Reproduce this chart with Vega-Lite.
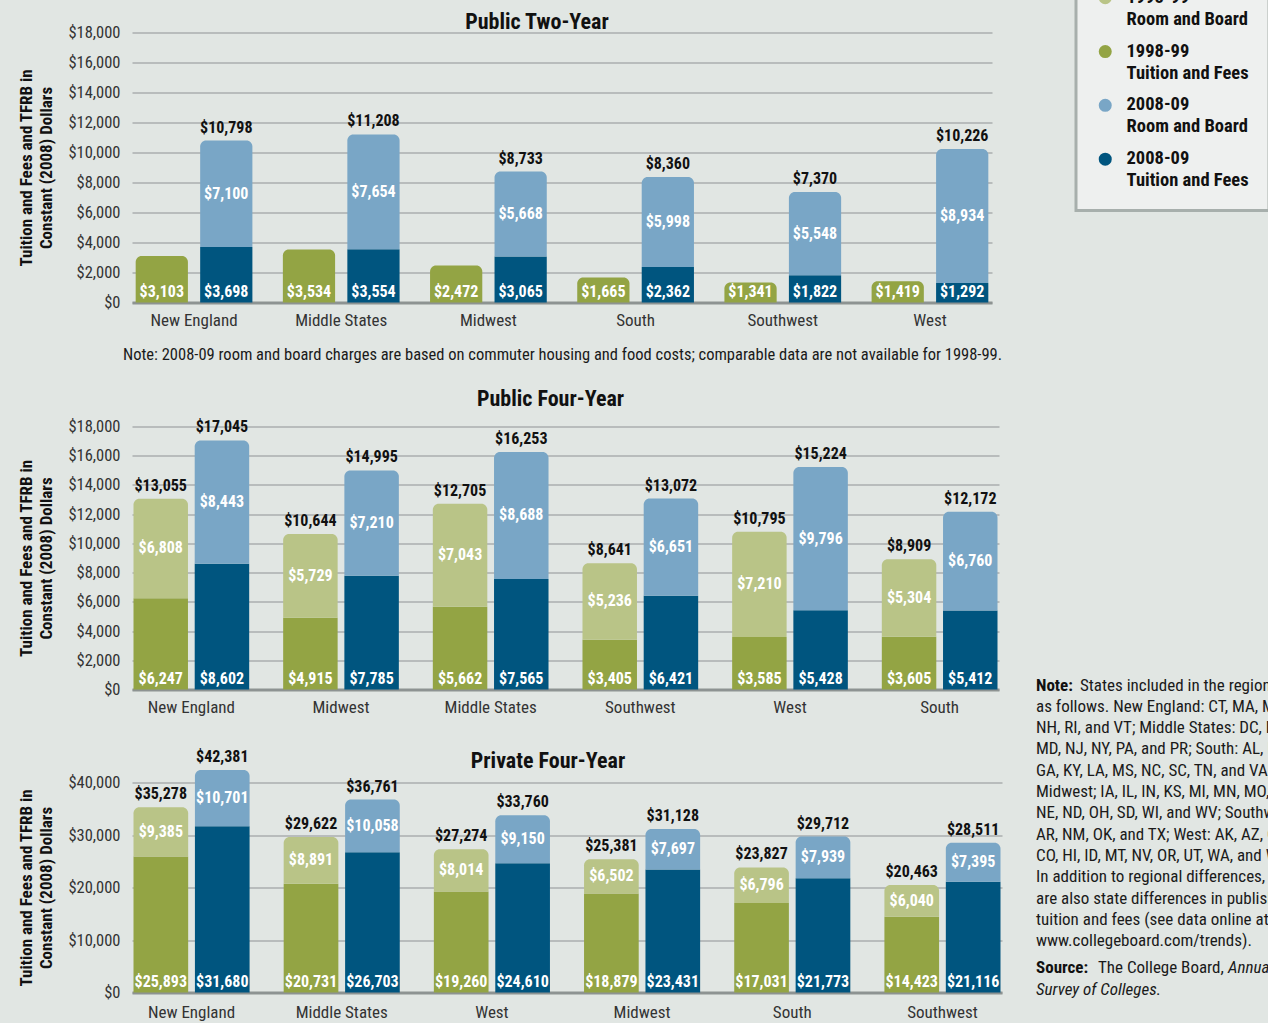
{
  "$schema": "https://vega.github.io/schema/vega-lite/v6.json",
  "padding": {"left": 17, "top": -33.5, "right": 0, "bottom": 0},
  "datasets": {
    "bars": [
      {"panel":"Public Two-Year","region":"New England","year":"1998-99","part":"Tuition and Fees","value":3103},
      {"panel":"Public Two-Year","region":"New England","year":"2008-09","part":"Tuition and Fees","value":3698},
      {"panel":"Public Two-Year","region":"New England","year":"2008-09","part":"Room and Board","value":7100},
      {"panel":"Public Two-Year","region":"Middle States","year":"1998-99","part":"Tuition and Fees","value":3534},
      {"panel":"Public Two-Year","region":"Middle States","year":"2008-09","part":"Tuition and Fees","value":3554},
      {"panel":"Public Two-Year","region":"Middle States","year":"2008-09","part":"Room and Board","value":7654},
      {"panel":"Public Two-Year","region":"Midwest","year":"1998-99","part":"Tuition and Fees","value":2472},
      {"panel":"Public Two-Year","region":"Midwest","year":"2008-09","part":"Tuition and Fees","value":3065},
      {"panel":"Public Two-Year","region":"Midwest","year":"2008-09","part":"Room and Board","value":5668},
      {"panel":"Public Two-Year","region":"South","year":"1998-99","part":"Tuition and Fees","value":1665},
      {"panel":"Public Two-Year","region":"South","year":"2008-09","part":"Tuition and Fees","value":2362},
      {"panel":"Public Two-Year","region":"South","year":"2008-09","part":"Room and Board","value":5998},
      {"panel":"Public Two-Year","region":"Southwest","year":"1998-99","part":"Tuition and Fees","value":1341},
      {"panel":"Public Two-Year","region":"Southwest","year":"2008-09","part":"Tuition and Fees","value":1822},
      {"panel":"Public Two-Year","region":"Southwest","year":"2008-09","part":"Room and Board","value":5548},
      {"panel":"Public Two-Year","region":"West","year":"1998-99","part":"Tuition and Fees","value":1419},
      {"panel":"Public Two-Year","region":"West","year":"2008-09","part":"Tuition and Fees","value":1292},
      {"panel":"Public Two-Year","region":"West","year":"2008-09","part":"Room and Board","value":8934},

      {"panel":"Public Four-Year","region":"New England","year":"1998-99","part":"Tuition and Fees","value":6247},
      {"panel":"Public Four-Year","region":"New England","year":"1998-99","part":"Room and Board","value":6808},
      {"panel":"Public Four-Year","region":"New England","year":"2008-09","part":"Tuition and Fees","value":8602},
      {"panel":"Public Four-Year","region":"New England","year":"2008-09","part":"Room and Board","value":8443},
      {"panel":"Public Four-Year","region":"Midwest","year":"1998-99","part":"Tuition and Fees","value":4915},
      {"panel":"Public Four-Year","region":"Midwest","year":"1998-99","part":"Room and Board","value":5729},
      {"panel":"Public Four-Year","region":"Midwest","year":"2008-09","part":"Tuition and Fees","value":7785},
      {"panel":"Public Four-Year","region":"Midwest","year":"2008-09","part":"Room and Board","value":7210},
      {"panel":"Public Four-Year","region":"Middle States","year":"1998-99","part":"Tuition and Fees","value":5662},
      {"panel":"Public Four-Year","region":"Middle States","year":"1998-99","part":"Room and Board","value":7043},
      {"panel":"Public Four-Year","region":"Middle States","year":"2008-09","part":"Tuition and Fees","value":7565},
      {"panel":"Public Four-Year","region":"Middle States","year":"2008-09","part":"Room and Board","value":8688},
      {"panel":"Public Four-Year","region":"Southwest","year":"1998-99","part":"Tuition and Fees","value":3405},
      {"panel":"Public Four-Year","region":"Southwest","year":"1998-99","part":"Room and Board","value":5236},
      {"panel":"Public Four-Year","region":"Southwest","year":"2008-09","part":"Tuition and Fees","value":6421},
      {"panel":"Public Four-Year","region":"Southwest","year":"2008-09","part":"Room and Board","value":6651},
      {"panel":"Public Four-Year","region":"West","year":"1998-99","part":"Tuition and Fees","value":3585},
      {"panel":"Public Four-Year","region":"West","year":"1998-99","part":"Room and Board","value":7210},
      {"panel":"Public Four-Year","region":"West","year":"2008-09","part":"Tuition and Fees","value":5428},
      {"panel":"Public Four-Year","region":"West","year":"2008-09","part":"Room and Board","value":9796},
      {"panel":"Public Four-Year","region":"South","year":"1998-99","part":"Tuition and Fees","value":3605},
      {"panel":"Public Four-Year","region":"South","year":"1998-99","part":"Room and Board","value":5304},
      {"panel":"Public Four-Year","region":"South","year":"2008-09","part":"Tuition and Fees","value":5412},
      {"panel":"Public Four-Year","region":"South","year":"2008-09","part":"Room and Board","value":6760},

      {"panel":"Private Four-Year","region":"New England","year":"1998-99","part":"Tuition and Fees","value":25893},
      {"panel":"Private Four-Year","region":"New England","year":"1998-99","part":"Room and Board","value":9385},
      {"panel":"Private Four-Year","region":"New England","year":"2008-09","part":"Tuition and Fees","value":31680},
      {"panel":"Private Four-Year","region":"New England","year":"2008-09","part":"Room and Board","value":10701},
      {"panel":"Private Four-Year","region":"Middle States","year":"1998-99","part":"Tuition and Fees","value":20731},
      {"panel":"Private Four-Year","region":"Middle States","year":"1998-99","part":"Room and Board","value":8891},
      {"panel":"Private Four-Year","region":"Middle States","year":"2008-09","part":"Tuition and Fees","value":26703},
      {"panel":"Private Four-Year","region":"Middle States","year":"2008-09","part":"Room and Board","value":10058},
      {"panel":"Private Four-Year","region":"West","year":"1998-99","part":"Tuition and Fees","value":19260},
      {"panel":"Private Four-Year","region":"West","year":"1998-99","part":"Room and Board","value":8014},
      {"panel":"Private Four-Year","region":"West","year":"2008-09","part":"Tuition and Fees","value":24610},
      {"panel":"Private Four-Year","region":"West","year":"2008-09","part":"Room and Board","value":9150},
      {"panel":"Private Four-Year","region":"Midwest","year":"1998-99","part":"Tuition and Fees","value":18879},
      {"panel":"Private Four-Year","region":"Midwest","year":"1998-99","part":"Room and Board","value":6502},
      {"panel":"Private Four-Year","region":"Midwest","year":"2008-09","part":"Tuition and Fees","value":23431},
      {"panel":"Private Four-Year","region":"Midwest","year":"2008-09","part":"Room and Board","value":7697},
      {"panel":"Private Four-Year","region":"South","year":"1998-99","part":"Tuition and Fees","value":17031},
      {"panel":"Private Four-Year","region":"South","year":"1998-99","part":"Room and Board","value":6796},
      {"panel":"Private Four-Year","region":"South","year":"2008-09","part":"Tuition and Fees","value":21773},
      {"panel":"Private Four-Year","region":"South","year":"2008-09","part":"Room and Board","value":7939},
      {"panel":"Private Four-Year","region":"Southwest","year":"1998-99","part":"Tuition and Fees","value":14423},
      {"panel":"Private Four-Year","region":"Southwest","year":"1998-99","part":"Room and Board","value":6040},
      {"panel":"Private Four-Year","region":"Southwest","year":"2008-09","part":"Tuition and Fees","value":21116},
      {"panel":"Private Four-Year","region":"Southwest","year":"2008-09","part":"Room and Board","value":7395}
    ],
    "notes": [
      {"line":1,"role":"label","text":"Note:"},
      {"line":1,"role":"cont","text":"States included in the regions are"},
      {"line":2,"role":"body","text":"as follows. New England: CT, MA, ME,"},
      {"line":3,"role":"body","text":"NH, RI, and VT; Middle States: DC, DE,"},
      {"line":4,"role":"body","text":"MD, NJ, NY, PA, and PR; South: AL, FL,"},
      {"line":5,"role":"body","text":"GA, KY, LA, MS, NC, SC, TN, and VA;"},
      {"line":6,"role":"body","text":"Midwest; IA, IL, IN, KS, MI, MN, MO,"},
      {"line":7,"role":"body","text":"NE, ND, OH, SD, WI, and WV; Southwest:"},
      {"line":8,"role":"body","text":"AR, NM, OK, and TX; West: AK, AZ, CA,"},
      {"line":9,"role":"body","text":"CO, HI, ID, MT, NV, OR, UT, WA, and WY."},
      {"line":10,"role":"body","text":"In addition to regional differences, there"},
      {"line":11,"role":"body","text":"are also state differences in published"},
      {"line":12,"role":"body","text":"tuition and fees (see data online at"},
      {"line":13,"role":"body","text":"www.collegeboard.com/trends)."},
      {"line":14,"role":"label","text":"Source:"},
      {"line":14,"role":"cont","text":"The College Board,"},
      {"line":14,"role":"title","text":"Annual"},
      {"line":15,"role":"title","text":"Survey of Colleges."}
    ]
  },
  "hconcat": [
    {
      "vconcat": [
        {
          "title": {"text": "Public Two-Year", "offset": -9, "dx": -25},
          "width": 860, "height": 270,
          "data": {"name": "bars"},
          "transform": [
            {"filter": "datum.panel == 'Public Two-Year'"},
            {"stack": "value", "groupby": ["region","year"], "sort": [{"field":"part","order":"descending"}], "as": ["lo","hi"]},
            {"joinaggregate": [{"op":"max","field":"hi","as":"total"},{"op":"count","as":"n"}], "groupby": ["region","year"]},
            {"calculate": "(datum.lo + datum.hi) / 2", "as": "mid"},
            {"calculate": "datum.year + ' ' + datum.part", "as": "series"}
          ],
          "encoding": {
            "x": {"field":"region","type":"nominal","sort":["New England","Middle States","Midwest","South","Southwest","West"],
                  "scale":{"paddingInner":0.207,"paddingOuter":0.025},
                  "axis":{"title":"Note: 2008-09 room and board charges are based on commuter housing and food costs; comparable data are not available for 1998-99.","titlePadding":18}},
            "xOffset": {"field":"year","type":"nominal","sort":["1998-99","2008-09"],"scale":{"paddingInner":0.19,"paddingOuter":0}}
          },
          "layer": [
            {"transform":[{"filter":"datum.hi < datum.total"}],
             "mark":{"type":"bar"},
             "encoding":{
               "y":{"field":"hi","type":"quantitative","scale":{"domain":[0,18000],"nice":false},
                    "axis":{"values":[0,2000,4000,6000,8000,10000,12000,14000,16000,18000],"title":["Tuition and Fees and TFRB in","Constant (2008) Dollars"]}},
               "y2":{"field":"lo"},
               "color":{"field":"series","type":"nominal",
                        "scale":{"domain":["1998-99 Room and Board","1998-99 Tuition and Fees","2008-09 Room and Board","2008-09 Tuition and Fees"],"range":["#b9c487","#93a444","#79a6c6","#00557f"]},
                        "legend":{"title":null,"labelExpr":"[slice(datum.label,0,7), slice(datum.label,8)]","encode":{"labels":{"update":{"lineHeight":{"value":22},"dy":{"value":-10}}}}}}
             }},
            {"transform":[{"filter":"datum.hi == datum.total"}],
             "mark":{"type":"bar","cornerRadiusTopLeft":6,"cornerRadiusTopRight":6},
             "encoding":{
               "y":{"field":"hi","type":"quantitative","scale":{"domain":[0,18000],"nice":false},
                    "axis":{"values":[0,2000,4000,6000,8000,10000,12000,14000,16000,18000],"title":["Tuition and Fees and TFRB in","Constant (2008) Dollars"]}},
               "y2":{"field":"lo"},
               "color":{"field":"series","type":"nominal",
                        "scale":{"domain":["1998-99 Room and Board","1998-99 Tuition and Fees","2008-09 Room and Board","2008-09 Tuition and Fees"],"range":["#b9c487","#93a444","#79a6c6","#00557f"]},
                        "legend":{"title":null,"labelExpr":"[slice(datum.label,0,7), slice(datum.label,8)]","encode":{"labels":{"update":{"lineHeight":{"value":22},"dy":{"value":-10}}}}}}
             }},
            {"transform":[{"filter":"datum.n > 1 && datum.hi == datum.total"}],
             "mark":{"type":"text","baseline":"bottom","dy":-5,"fontWeight":"bold","fontSize":16,"color":"#111111"},
             "encoding":{
               "y":{"field":"total","type":"quantitative","scale":{"domain":[0,18000],"nice":false},
                    "axis":{"values":[0,2000,4000,6000,8000,10000,12000,14000,16000,18000],"title":["Tuition and Fees and TFRB in","Constant (2008) Dollars"]}},
               "text":{"field":"total","type":"quantitative","format":"$,.0f"}
             }},
            {"transform":[{"filter":"datum.part == 'Tuition and Fees'"}],
             "mark":{"type":"text","baseline":"bottom","dy":-3,"fontWeight":"bold","fontSize":16,"color":"#ffffff"},
             "encoding":{
               "y":{"field":"lo","type":"quantitative","scale":{"domain":[0,18000],"nice":false},
                    "axis":{"values":[0,2000,4000,6000,8000,10000,12000,14000,16000,18000],"title":["Tuition and Fees and TFRB in","Constant (2008) Dollars"]}},
               "text":{"field":"value","type":"quantitative","format":"$,.0f"}
             }},
            {"transform":[{"filter":"datum.part == 'Room and Board'"}],
             "mark":{"type":"text","baseline":"middle","fontWeight":"bold","fontSize":16,"color":"#ffffff"},
             "encoding":{
               "y":{"field":"mid","type":"quantitative","scale":{"domain":[0,18000],"nice":false},
                    "axis":{"values":[0,2000,4000,6000,8000,10000,12000,14000,16000,18000],"title":["Tuition and Fees and TFRB in","Constant (2008) Dollars"]}},
               "text":{"field":"value","type":"quantitative","format":"$,.0f"}
             }}
          ]
        },
        {
          "vconcat": [
            {
              "title": {"text": "Public Four-Year", "offset": 7.5, "dx": -15},
              "width": 867, "height": 263,
              "data": {"name": "bars"},
              "transform": [
                {"filter": "datum.panel == 'Public Four-Year'"},
                {"stack": "value", "groupby": ["region","year"], "sort": [{"field":"part","order":"descending"}], "as": ["lo","hi"]},
                {"joinaggregate": [{"op":"max","field":"hi","as":"total"},{"op":"count","as":"n"}], "groupby": ["region","year"]},
                {"calculate": "(datum.lo + datum.hi) / 2", "as": "mid"},
                {"calculate": "datum.year + ' ' + datum.part", "as": "series"}
              ],
              "encoding": {
                "x": {"field":"region","type":"nominal","sort":["New England","Midwest","Middle States","Southwest","West","South"],
                      "scale":{"paddingInner":0.227,"paddingOuter":0.01},
                      "axis":{"title":null}},
                "xOffset": {"field":"year","type":"nominal","sort":["1998-99","2008-09"],"scale":{"paddingInner":0.11,"paddingOuter":0}}
              },
              "layer": [
                {"transform":[{"filter":"datum.hi < datum.total"}],
                 "mark":{"type":"bar"},
                 "encoding":{
                   "y":{"field":"hi","type":"quantitative","scale":{"domain":[0,18000],"nice":false},
                        "axis":{"values":[0,2000,4000,6000,8000,10000,12000,14000,16000,18000],"title":["Tuition and Fees and TFRB in","Constant (2008) Dollars"]}},
                   "y2":{"field":"lo"},
                   "color":{"field":"series","type":"nominal",
                            "scale":{"domain":["1998-99 Room and Board","1998-99 Tuition and Fees","2008-09 Room and Board","2008-09 Tuition and Fees"],"range":["#b9c487","#93a444","#79a6c6","#00557f"]},
                            "legend":{"title":null,"labelExpr":"[slice(datum.label,0,7), slice(datum.label,8)]","encode":{"labels":{"update":{"lineHeight":{"value":22},"dy":{"value":-10}}}}}}
                 }},
                {"transform":[{"filter":"datum.hi == datum.total"}],
                 "mark":{"type":"bar","cornerRadiusTopLeft":6,"cornerRadiusTopRight":6},
                 "encoding":{
                   "y":{"field":"hi","type":"quantitative","scale":{"domain":[0,18000],"nice":false},
                        "axis":{"values":[0,2000,4000,6000,8000,10000,12000,14000,16000,18000],"title":["Tuition and Fees and TFRB in","Constant (2008) Dollars"]}},
                   "y2":{"field":"lo"},
                   "color":{"field":"series","type":"nominal",
                            "scale":{"domain":["1998-99 Room and Board","1998-99 Tuition and Fees","2008-09 Room and Board","2008-09 Tuition and Fees"],"range":["#b9c487","#93a444","#79a6c6","#00557f"]},
                            "legend":{"title":null,"labelExpr":"[slice(datum.label,0,7), slice(datum.label,8)]","encode":{"labels":{"update":{"lineHeight":{"value":22},"dy":{"value":-10}}}}}}
                 }},
                {"transform":[{"filter":"datum.n > 1 && datum.hi == datum.total"}],
                 "mark":{"type":"text","baseline":"bottom","dy":-5,"fontWeight":"bold","fontSize":16,"color":"#111111"},
                 "encoding":{
                   "y":{"field":"total","type":"quantitative","scale":{"domain":[0,18000],"nice":false},
                        "axis":{"values":[0,2000,4000,6000,8000,10000,12000,14000,16000,18000],"title":["Tuition and Fees and TFRB in","Constant (2008) Dollars"]}},
                   "text":{"field":"total","type":"quantitative","format":"$,.0f"}
                 }},
                {"transform":[{"filter":"datum.part == 'Tuition and Fees'"}],
                 "mark":{"type":"text","baseline":"bottom","dy":-3,"fontWeight":"bold","fontSize":16,"color":"#ffffff"},
                 "encoding":{
                   "y":{"field":"lo","type":"quantitative","scale":{"domain":[0,18000],"nice":false},
                        "axis":{"values":[0,2000,4000,6000,8000,10000,12000,14000,16000,18000],"title":["Tuition and Fees and TFRB in","Constant (2008) Dollars"]}},
                   "text":{"field":"value","type":"quantitative","format":"$,.0f"}
                 }},
                {"transform":[{"filter":"datum.part == 'Room and Board'"}],
                 "mark":{"type":"text","baseline":"middle","fontWeight":"bold","fontSize":16,"color":"#ffffff"},
                 "encoding":{
                   "y":{"field":"mid","type":"quantitative","scale":{"domain":[0,18000],"nice":false},
                        "axis":{"values":[0,2000,4000,6000,8000,10000,12000,14000,16000,18000],"title":["Tuition and Fees and TFRB in","Constant (2008) Dollars"]}},
                   "text":{"field":"value","type":"quantitative","format":"$,.0f"}
                 }}
              ]
            },
            {
              "title": {"text": "Private Four-Year", "offset": -24, "dx": -19},
              "width": 870, "height": 210,
              "data": {"name": "bars"},
              "transform": [
                {"filter": "datum.panel == 'Private Four-Year'"},
                {"stack": "value", "groupby": ["region","year"], "sort": [{"field":"part","order":"descending"}], "as": ["lo","hi"]},
                {"joinaggregate": [{"op":"max","field":"hi","as":"total"},{"op":"count","as":"n"}], "groupby": ["region","year"]},
                {"calculate": "(datum.lo + datum.hi) / 2", "as": "mid"},
                {"calculate": "datum.year + ' ' + datum.part", "as": "series"}
              ],
              "encoding": {
                "x": {"field":"region","type":"nominal","sort":["New England","Middle States","West","Midwest","South","Southwest"],
                      "scale":{"paddingInner":0.227,"paddingOuter":0.01},
                      "axis":{"title":null,"labelPadding":12}},
                "xOffset": {"field":"year","type":"nominal","sort":["1998-99","2008-09"],"scale":{"paddingInner":0.11,"paddingOuter":0}}
              },
              "layer": [
                {"transform":[{"filter":"datum.hi < datum.total"}],
                 "mark":{"type":"bar"},
                 "encoding":{
                   "y":{"field":"hi","type":"quantitative","scale":{"domain":[0,40000],"nice":false},
                        "axis":{"values":[0,10000,20000,30000,40000],"title":["Tuition and Fees and TFRB in","Constant (2008) Dollars"]}},
                   "y2":{"field":"lo"},
                   "color":{"field":"series","type":"nominal",
                            "scale":{"domain":["1998-99 Room and Board","1998-99 Tuition and Fees","2008-09 Room and Board","2008-09 Tuition and Fees"],"range":["#b9c487","#93a444","#79a6c6","#00557f"]},
                            "legend":{"title":null,"labelExpr":"[slice(datum.label,0,7), slice(datum.label,8)]","encode":{"labels":{"update":{"lineHeight":{"value":22},"dy":{"value":-10}}}}}}
                 }},
                {"transform":[{"filter":"datum.hi == datum.total"}],
                 "mark":{"type":"bar","cornerRadiusTopLeft":6,"cornerRadiusTopRight":6},
                 "encoding":{
                   "y":{"field":"hi","type":"quantitative","scale":{"domain":[0,40000],"nice":false},
                        "axis":{"values":[0,10000,20000,30000,40000],"title":["Tuition and Fees and TFRB in","Constant (2008) Dollars"]}},
                   "y2":{"field":"lo"},
                   "color":{"field":"series","type":"nominal",
                            "scale":{"domain":["1998-99 Room and Board","1998-99 Tuition and Fees","2008-09 Room and Board","2008-09 Tuition and Fees"],"range":["#b9c487","#93a444","#79a6c6","#00557f"]},
                            "legend":{"title":null,"labelExpr":"[slice(datum.label,0,7), slice(datum.label,8)]","encode":{"labels":{"update":{"lineHeight":{"value":22},"dy":{"value":-10}}}}}}
                 }},
                {"transform":[{"filter":"datum.n > 1 && datum.hi == datum.total"}],
                 "mark":{"type":"text","baseline":"bottom","dy":-5,"fontWeight":"bold","fontSize":16,"color":"#111111"},
                 "encoding":{
                   "y":{"field":"total","type":"quantitative","scale":{"domain":[0,40000],"nice":false},
                        "axis":{"values":[0,10000,20000,30000,40000],"title":["Tuition and Fees and TFRB in","Constant (2008) Dollars"]}},
                   "text":{"field":"total","type":"quantitative","format":"$,.0f"}
                 }},
                {"transform":[{"filter":"datum.part == 'Tuition and Fees'"}],
                 "mark":{"type":"text","baseline":"bottom","dy":-3,"fontWeight":"bold","fontSize":16,"color":"#ffffff"},
                 "encoding":{
                   "y":{"field":"lo","type":"quantitative","scale":{"domain":[0,40000],"nice":false},
                        "axis":{"values":[0,10000,20000,30000,40000],"title":["Tuition and Fees and TFRB in","Constant (2008) Dollars"]}},
                   "text":{"field":"value","type":"quantitative","format":"$,.0f"}
                 }},
                {"transform":[{"filter":"datum.part == 'Room and Board'"}],
                 "mark":{"type":"text","baseline":"middle","fontWeight":"bold","fontSize":16,"color":"#ffffff"},
                 "encoding":{
                   "y":{"field":"mid","type":"quantitative","scale":{"domain":[0,40000],"nice":false},
                        "axis":{"values":[0,10000,20000,30000,40000],"title":["Tuition and Fees and TFRB in","Constant (2008) Dollars"]}},
                   "text":{"field":"value","type":"quantitative","format":"$,.0f"}
                 }}
              ]
            }
          ],
          "spacing": 33,
          "resolve": {"scale": {"x": "independent", "y": "independent", "xOffset": "independent", "color": "shared"}}
        }
      ],
      "spacing": 24,
      "resolve": {"scale": {"x": "independent", "y": "independent", "xOffset": "independent", "color": "shared"}}
    },
    {
      "width": 235, "height": 1000,
      "data": {"name": "notes"},
      "encoding": {
        "y": {"field": "line", "type": "quantitative", "scale": {"domain": [-29.66, 17.29], "reverse": true, "zero": false, "nice": false}, "axis": null},
        "x": {"value": 0},
        "text": {"field": "text"}
      },
      "layer": [
        {"transform": [{"filter": "datum.line == 1 && datum.role == 'label'"}],
         "mark": {"type": "text", "align": "left", "baseline": "middle", "fontSize": 17, "fontWeight": "bold", "color": "#111111"}},
        {"transform": [{"filter": "datum.line == 1 && datum.role == 'cont'"}],
         "mark": {"type": "text", "align": "left", "baseline": "middle", "fontSize": 17, "dx": 44, "color": "#1a1a1a"}},
        {"transform": [{"filter": "datum.role == 'body'"}],
         "mark": {"type": "text", "align": "left", "baseline": "middle", "fontSize": 17, "color": "#1a1a1a"}},
        {"transform": [{"filter": "datum.line == 14 && datum.role == 'label'"}],
         "mark": {"type": "text", "align": "left", "baseline": "middle", "fontSize": 17, "fontWeight": "bold", "dy": 6, "color": "#111111"}},
        {"transform": [{"filter": "datum.line == 14 && datum.role == 'cont'"}],
         "mark": {"type": "text", "align": "left", "baseline": "middle", "fontSize": 17, "dx": 62, "dy": 6, "color": "#1a1a1a"}},
        {"transform": [{"filter": "datum.line == 14 && datum.role == 'title'"}],
         "mark": {"type": "text", "align": "left", "baseline": "middle", "fontSize": 17, "fontStyle": "italic", "dx": 192, "dy": 6, "color": "#1a1a1a"}},
        {"transform": [{"filter": "datum.line == 15"}],
         "mark": {"type": "text", "align": "left", "baseline": "middle", "fontSize": 17, "fontStyle": "italic", "dy": 6, "color": "#1a1a1a"}}
      ]
    }
  ],
  "spacing": 34,
  "resolve": {"scale": {"color": "shared", "y": "independent", "x": "independent"}},
  "config": {
    "background": "#e1e6e3",
    "font": "Roboto Condensed, Noto Sans Condensed, Liberation Sans Narrow, DejaVu Sans Condensed, sans-serif",
    "view": {"stroke": null},
    "title": {"fontSize": 22, "fontWeight": "bold", "color": "#111111", "anchor": "middle", "frame": "group"},
    "axis": {"labelFontSize": 16.5, "labelColor": "#333333", "ticks": false, "titleFontSize": 17, "titleFontWeight": "bold", "titleColor": "#111111"},
    "axisX": {"labelAngle": 0, "labelFontSize": 17, "labelPadding": 10, "domainColor": "#8d9392", "domainWidth": 3, "grid": false, "zindex": 1, "titleFontWeight": "normal", "titleFontSize": 16.5, "titleColor": "#1a1a1a"},
    "axisY": {"grid": true, "gridColor": "#b8bcbc", "gridWidth": 2, "domain": false, "labelPadding": 12, "format": "$,.0f", "titlePadding": 12, "titleLineHeight": 20},
    "legend": {"orient": "none", "legendX": 944, "legendY": -64, "symbolType": "circle", "symbolSize": 170, "symbolStrokeWidth": 0, "labelFontSize": 18.5, "labelFontWeight": "bold", "labelColor": "#111111", "labelOffset": 12, "labelBaseline": "top", "labelLimit": 300, "padding": 20, "fillColor": "#eef0ef", "strokeColor": "#a7afac", "strokeWidth": 3, "rowPadding": 12.8}
  }
}
